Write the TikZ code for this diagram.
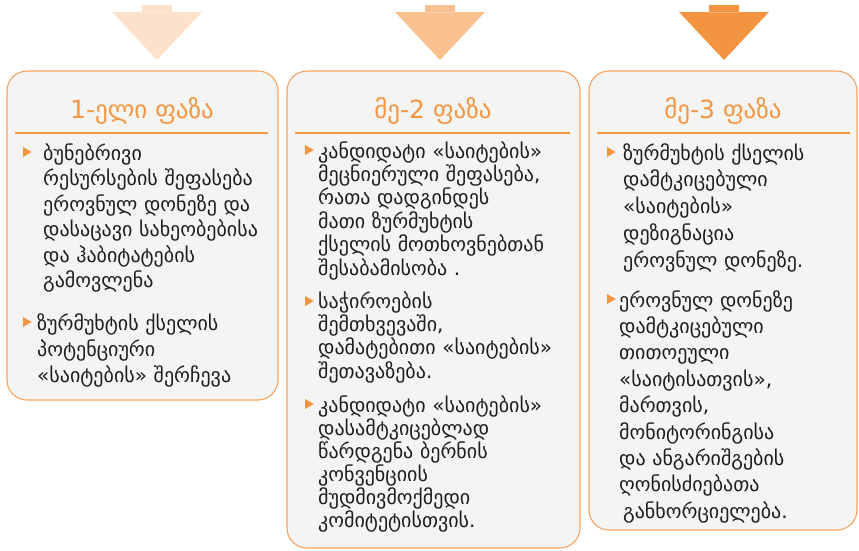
\documentclass[tikz,border=0pt]{standalone}
\usepackage{fontspec}
\setmainfont{DejaVu Sans}
\usetikzlibrary{shapes.geometric}

\definecolor{boxfill}{HTML}{F4F4F2}
\definecolor{boxline}{HTML}{F4A35E}
\definecolor{titleorange}{HTML}{F29643}
\definecolor{arrowA}{HTML}{FDE1CA}
\definecolor{arrowB}{HTML}{F9C18F}
\definecolor{arrowC}{HTML}{F39441}
\definecolor{bodytext}{HTML}{1E1E1E}

\tikzset{
  phasebox/.style={draw=boxline, fill=boxfill, line width=1.1pt, rounded corners=20pt,
    anchor=north west, inner sep=0pt, outer sep=0pt},
  phasetitle/.style={text=titleorange, font=\fontsize{25}{30}\selectfont, inner sep=0pt, anchor=base},
  titlerule/.style={draw=titleorange, line width=1.4pt},
  itemtext/.style={anchor=base west, align=left, inner sep=0pt, text=bodytext, text width=250pt},
  bullet/.style={regular polygon, regular polygon sides=3, rotate=-90, fill=titleorange,
    inner sep=0pt, minimum size=11.5pt},
}

\begin{document}
\begin{tikzpicture}[x=1pt, y=-1pt]
\useasboundingbox (0,0) rectangle (859,550);

% arrows above the phases
\foreach \cx/\col in {157/arrowA, 440/arrowB, 724/arrowC}
  \fill[\col] (\cx-15,5) rectangle (\cx+15,12.5)
    (\cx-45,12) -- (\cx+45,12) -- (\cx,60) -- cycle;

% phase boxes
\node[phasebox, minimum width=271pt, minimum height=329pt] (boxA) at (7,71) {};
\node[phasebox, minimum width=293pt, minimum height=477pt] (boxB) at (287,71) {};
\node[phasebox, minimum width=268pt, minimum height=459pt] (boxC) at (589,71) {};

% titles
\node[phasetitle] (titleA) at (142,118) {1-ელი ფაზა};
\node[phasetitle] (titleB) at (433,118) {მე-2 ფაზა};
\node[phasetitle] (titleC) at (723,118) {მე-3 ფაზა};
\draw[titlerule] (15,133) -- (268,133);
\draw[titlerule] (295,133) -- (570,133);
\draw[titlerule] (597,133) -- (850,133);

% phase 1
\node[bullet] (bulA1) at (26,152) {};
\node[itemtext, font=\fontsize{20}{25.5}\selectfont] (itemA1) at (43,160)
  {ბუნებრივი\\რესურსების შეფასება\\ეროვნულ დონეზე და\\დასაცავი სახეობებისა\\და ჰაბიტატების\\გამოვლენა};
\node[bullet] (bulA2) at (26,322) {};
\node[itemtext, font=\fontsize{20}{26}\selectfont] (itemA2) at (37,330)
  {ზურმუხტის ქსელის\\პოტენციური\\«საიტების» შერჩევა};

% phase 2
\node[bullet] (bulB1) at (308,150) {};
\node[itemtext, font=\fontsize{20}{23.4}\selectfont] (itemB1) at (318,158)
  {კანდიდატი «საიტების»\\მეცნიერული შეფასება,\\რათა დადგინდეს\\მათი ზურმუხტის\\ქსელის მოთხოვნებთან\\შესაბამისობა .};
\node[bullet] (bulB2) at (308,301) {};
\node[itemtext, font=\fontsize{20}{23.4}\selectfont] (itemB2) at (318,308)
  {საჭიროების\\შემთხვევაში,\\დამატებითი «საიტების»\\შეთავაზება.};
\node[bullet] (bulB3) at (308,404) {};
\node[itemtext, font=\fontsize{20}{23}\selectfont] (itemB3) at (318,412)
  {კანდიდატი «საიტების»\\დასამტკიცებლად\\წარდგენა ბერნის\\კონვენციის\\მუდმივმოქმედი\\კომიტეტისთვის.};

% phase 3
\node[bullet] (bulC1) at (610,152) {};
\node[itemtext, font=\fontsize{20}{26.8}\selectfont] (itemC1) at (623,160)
  {ზურმუხტის ქსელის\\დამტკიცებული\\«საიტების»\\დეზიგნაცია\\ეროვნულ დონეზე.};
\node[bullet] (bulC2) at (610,299) {};
\node[itemtext, font=\fontsize{20}{26.4}\selectfont] (itemC2) at (619,307)
  {ეროვნულ დონეზე\\დამტკიცებული\\თითოეული\\«საიტისათვის»,\\მართვის,\\მონიტორინგისა\\და ანგარიშგების\\ღონისძიებათა\\\hspace{4pt}განხორციელება.};
\end{tikzpicture}
\end{document}
